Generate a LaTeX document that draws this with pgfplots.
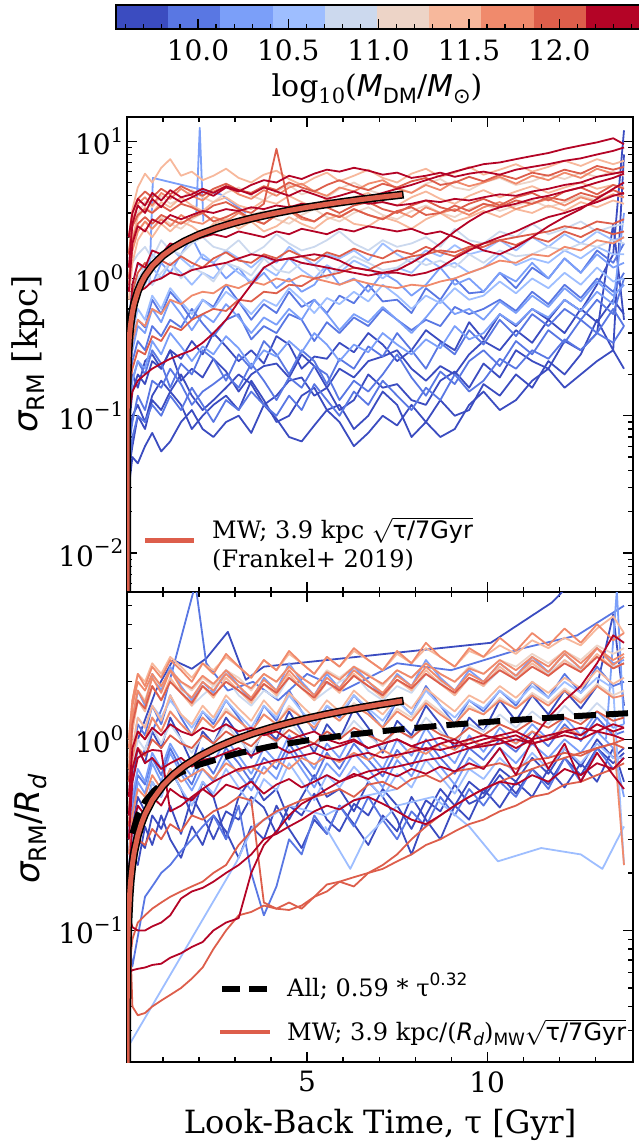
\documentclass[border=0pt]{standalone}
\usepackage{fontspec}
\setmainfont{DejaVu Serif}
\newfontfamily\dvs{DejaVu Sans}
\usepackage{pgfplots}
\pgfplotsset{compat=1.18}
\usepackage{pgfplotstable}

\definecolor{c1}{HTML}{3B4CC0}
\definecolor{c2}{HTML}{5977E3}
\definecolor{c3}{HTML}{7B9FF9}
\definecolor{c4}{HTML}{9EBEFF}
\definecolor{c5}{HTML}{CCD9EE}
\definecolor{c6}{HTML}{EDD4C7}
\definecolor{c7}{HTML}{F7B89C}
\definecolor{c8}{HTML}{F08A6C}
\definecolor{c9}{HTML}{DD5E4B}
\definecolor{c10}{HTML}{B40426}

\newcommand{\sub}[2]{\raisebox{-0.22em}{\fontsize{#1}{#1}\selectfont #2}}
\newcommand{\sups}[2]{\raisebox{0.45em}{\fontsize{#1}{#1}\selectfont #2}}

\pgfplotstableread{
name a1 a2 a3 a4 a5 a6 a7 a8 a9 a10 a11 a12 a13 a14 a15 a16 a17 a18 a19 a20 a21 a22 a23 a24 a25 a26 a27 a28 a29 a30 a31 a32 a33 a34 a35 a36 a37 a38 a39 a40
t 0.05 0.15 0.3 0.5 0.7 0.95 1.2 1.5 1.8 2.1 2.4 2.75 3.1 3.45 3.8 4.15 4.5 4.85 5.2 5.55 5.9 6.3 6.7 7.1 7.5 7.9 8.3 8.7 9.1 9.5 9.9 10.35 10.8 11.25 11.7 12.15 12.6 13.05 13.5 13.8
B1a 0.03 0.05 0.045 0.06 0.075 0.055 0.065 0.09 0.11 0.08 0.07 0.09 0.1 0.075 0.12 0.095 0.07 0.065 0.085 0.11 0.09 0.06 0.075 0.1 0.085 0.12 0.09 0.07 0.08 0.12 0.15 0.11 0.13 0.18 0.22 0.16 0.2 0.25 0.3 0.22
B1b 0.06 0.1 0.12 0.09 0.14 0.18 0.15 0.2 0.14 0.11 0.13 0.16 0.2 0.17 0.12 0.14 0.18 0.19 0.14 0.16 0.11 0.13 0.2 0.16 0.17 0.13 0.12 0.18 0.21 0.16 0.24 0.19 0.3 0.25 0.22 0.35 0.3 0.4 2.5 0.5
B1c 0.08 0.15 0.2 0.17 0.25 0.22 0.3 0.26 0.35 0.28 0.4 0.32 0.25 0.3 0.24 0.38 0.33 0.22 0.27 0.26 0.34 0.29 0.4 0.33 0.25 0.3 0.42 0.35 0.3 0.48 0.36 0.55 0.45 0.6 0.5 0.7 0.58 0.9 1.5 12
B1d 0.04 0.06 0.1 0.08 0.13 0.11 0.15 0.12 0.08 0.1 0.12 0.14 0.11 0.18 0.13 0.09 0.1 0.14 0.16 0.11 0.12 0.08 0.1 0.15 0.12 0.07 0.09 0.13 0.1 0.11 0.17 0.14 0.2 0.16 0.25 0.2 0.28 0.5 0.3 8
B1e 0.1 0.2 0.16 0.25 0.28 0.22 0.3 0.18 0.22 0.19 0.26 0.21 0.15 0.2 0.23 0.24 0.19 0.28 0.23 0.16 0.22 0.19 0.25 0.27 0.3 0.22 0.18 0.23 0.2 0.28 0.35 0.3 0.42 0.34 0.5 0.4 0.6 0.48 0.7 0.55
B2a 0.15 0.25 0.35 0.3 0.45 0.38 0.5 0.44 0.6 0.47 0.38 0.5 0.55 0.36 0.45 0.4 0.55 0.5 0.35 0.48 0.4 0.52 0.45 0.6 0.5 0.42 0.5 0.45 0.62 0.55 0.6 0.7 0.58 0.8 0.65 0.9 0.72 1.0 0.8 1.1
B2b 0.06 0.09 0.14 0.11 0.18 0.16 0.22 0.17 0.12 0.15 0.17 0.2 0.16 0.24 0.18 0.13 0.19 0.16 0.23 0.2 0.13 0.18 0.15 0.2 0.28 0.19 0.14 0.21 0.17 0.25 0.3 0.23 0.35 0.28 0.42 0.34 0.5 0.4 0.6 0.45
B2c 0.2 0.35 0.5 0.44 0.7 0.55 0.8 0.65 0.5 0.7 0.62 0.9 0.68 0.5 0.65 0.56 0.8 0.62 0.7 0.56 0.75 0.66 0.9 0.68 0.7 0.56 0.85 0.7 1.0 0.78 0.8 1.1 0.85 1.2 1.0 1.4 1.1 1.6 1.3 1.8
B2d 0.1 0.18 0.25 0.2 0.3 0.24 0.16 0.24 0.2 0.3 0.26 0.18 0.28 0.22 0.35 0.28 0.2 0.3 0.25 0.17 0.26 0.22 0.32 0.27 0.4 0.3 0.22 0.34 0.28 0.42 0.33 0.5 0.38 0.55 0.45 0.6 0.5 0.7 0.55 1.0
B2e 0.04 0.07 0.1 0.09 0.12 0.1 0.14 0.11 0.16 0.12 0.09 0.13 0.11 0.15 0.12 0.1 0.14 0.11 0.17 0.13 0.1 0.15 0.12 0.18 0.14 0.11 0.16 0.13 0.2 0.15 0.18 0.26 0.22 0.3 0.26 0.36 0.3 0.4 0.34 0.45
B3a 0.3 0.6 0.9 1.2 0.9 1.3 1.1 1.5 2.0 1.4 1.3 1.0 1.2 0.9 1.1 0.85 1.0 0.8 0.9 1.2 0.9 1.0 0.8 1.1 0.95 0.75 0.9 1.2 0.9 1.0 0.8 1.1 0.95 1.3 1.0 1.4 1.1 1.5 1.2 1.3
B3b 0.2 0.3 0.45 0.4 0.6 0.48 0.7 0.55 0.42 0.55 0.48 0.65 0.52 0.4 0.52 0.46 0.6 0.5 0.7 0.55 0.42 0.55 0.48 0.62 0.5 0.4 0.52 0.7 0.55 0.6 0.5 0.68 0.56 0.75 0.62 0.85 0.68 0.95 0.75 0.9
B3c 0.12 0.18 0.25 0.22 0.35 0.28 0.4 0.32 0.25 0.32 0.28 0.38 0.31 0.23 0.3 0.27 0.35 0.29 0.4 0.33 0.25 0.33 0.29 0.4 0.33 0.28 0.36 0.31 0.45 0.36 0.4 0.55 0.46 0.6 0.52 0.7 0.58 0.8 0.65 3
B4a 0.4 0.7 1.0 0.9 1.2 1.0 1.3 1.1 0.9 1.1 1.0 1.3 1.1 0.95 1.2 1.05 1.4 1.15 1.0 1.25 1.1 1.35 1.2 1.0 1.2 1.1 1.4 1.2 1.3 1.1 1.2 1.5 1.25 1.4 1.3 1.6 1.4 1.7 1.5 1.5
B4b 0.25 0.4 0.6 0.5 0.75 0.6 0.85 0.68 0.55 0.7 0.6 0.8 0.68 0.55 0.7 0.63 0.85 0.7 0.56 0.72 0.65 0.8 0.68 0.9 0.75 0.6 0.75 0.66 0.85 0.7 0.75 0.95 0.78 1.0 0.85 1.1 0.9 1.2 0.95 1.0
B4c 0.5 0.9 1.3 1.1 1.5 1.3 1.7 1.4 1.2 1.5 1.3 1.6 1.4 1.2 1.45 1.3 1.7 1.45 1.25 1.5 1.4 1.6 1.35 1.8 1.5 1.3 1.6 1.45 1.75 1.5 1.6 1.9 1.6 2.0 1.7 2.1 1.8 2.2 1.9 2.0
G5a 0.8 1.3 1.5 1.7 1.4 1.9 1.6 1.5 1.8 2.0 1.7 1.6 1.9 1.5 1.7 2.1 1.8 1.6 1.7 1.9 2.2 1.8 1.6 1.9 1.7 1.8 2.0 1.7 2.3 1.9 1.8 2.2 2.0 2.5 2.1 2.3 2.6 2.2 2.4 2.5
G5b 0.5 0.7 1.0 1.2 0.9 1.1 1.3 1.0 1.2 1.1 0.95 1.3 1.2 1.05 1.4 1.15 1.1 1.3 1.25 1.0 1.2 1.45 1.3 1.15 1.2 1.4 1.25 1.35 1.2 1.5 1.3 1.6 1.45 1.5 1.7 1.6 1.8 1.7 1.9 1.8
P6a 1.5 2.6 3.0 3.6 3.3 4.0 3.5 3.8 4.4 3.9 3.6 4.2 4.6 4.0 3.7 4.3 4.8 4.1 4.4 3.9 4.5 5.0 4.4 4.1 4.6 4.2 4.9 5.3 4.6 4.4 5.0 5.4 4.8 5.1 5.7 5.3 5.9 5.5 6.0 5.6
P6b 1.0 1.6 2.2 2.6 2.3 2.8 2.5 2.3 2.7 3.0 2.6 2.8 2.4 2.9 3.1 2.7 2.5 2.9 3.2 2.8 2.6 3.0 3.3 2.9 2.7 3.1 3.4 3.0 2.8 3.2 3.5 3.1 3.4 3.7 3.3 3.6 4.0 3.7 4.1 3.9
P7a 2.0 3.2 4.6 5.8 5.0 6.4 7.4 5.6 6.0 5.2 5.6 6.3 5.4 5.0 5.7 6.1 5.3 4.8 5.4 5.9 5.1 5.6 6.2 5.4 5.0 5.8 6.3 5.5 5.9 6.5 5.7 6.2 6.8 6.0 6.5 7.2 6.6 7.4 6.8 7.2
P7b 1.2 2.0 2.8 3.3 3.0 3.6 3.3 3.9 3.4 3.1 3.6 3.9 3.4 3.2 3.7 3.5 4.0 3.6 3.3 3.8 3.5 3.9 4.2 3.6 3.4 3.9 4.3 3.8 3.5 4.0 4.4 3.9 4.3 4.7 4.2 4.6 5.0 4.5 4.8 4.6
P7c 0.7 1.3 1.9 2.3 2.0 2.5 2.2 2.6 2.4 2.1 2.5 2.7 2.3 2.6 2.2 2.4 2.8 2.5 2.3 2.7 2.9 2.5 2.4 2.8 2.6 2.3 2.7 3.0 2.6 2.8 3.1 2.8 3.2 3.0 3.4 3.1 3.6 3.3 3.7 3.5
R8a 1.5 2.6 3.5 3.9 3.4 4.2 3.8 4.5 4.0 3.7 4.3 4.7 4.1 3.8 4.4 4.0 4.6 4.9 4.3 4.0 4.6 4.3 4.9 5.2 4.5 4.2 4.8 4.4 5.1 4.7 5.0 5.5 4.9 5.6 5.2 5.9 5.4 6.3 5.8 6.0
R8b 0.9 1.6 2.2 2.6 2.3 2.7 2.4 2.9 2.6 2.5 2.8 2.6 3.0 2.7 2.5 2.9 3.1 2.7 2.6 3.0 2.8 3.2 2.9 2.7 3.1 2.8 3.3 3.0 3.2 2.9 3.3 3.6 3.2 3.5 3.8 3.4 3.9 3.6 4.1 3.9
R8c 0.2 0.35 0.5 0.45 0.6 0.55 0.7 0.65 0.75 0.8 0.78 0.9 0.85 0.95 0.9 1.0 0.95 1.05 1.0 0.95 0.9 0.98 0.92 0.88 0.85 0.9 0.88 0.95 1.0 1.1 1.2 1.35 1.3 1.5 1.45 1.7 1.6 1.9 1.8 2.0
R9a 2.0 3.0 3.8 4.3 3.9 4.5 4.1 4.7 4.3 4.0 4.5 4.9 4.4 4.2 4.7 4.4 5.0 4.6 4.3 4.8 5.2 4.7 4.4 4.9 4.6 5.1 5.4 4.8 5.0 5.5 5.1 5.7 5.3 5.9 5.6 6.2 5.8 6.6 6.2 6.5
R9b 1.5 2.4 2.9 3.2 3.0 3.4 3.1 3.5 3.3 3.0 3.4 3.6 3.2 3.0 3.5 8.8 3.4 3.1 3.5 3.3 3.0 3.4 3.6 3.2 3.0 3.4 3.7 3.3 3.1 3.5 3.8 3.4 3.9 4.2 3.7 4.3 4.6 4.1 4.8 4.5
R9c 1.0 1.9 2.5 2.8 2.5 2.9 2.7 2.5 2.8 3.0 2.6 2.8 3.1 2.7 2.5 2.9 3.2 2.8 2.6 3.0 2.8 3.2 2.9 2.7 3.1 3.3 2.9 3.0 3.4 3.1 3.5 3.3 3.7 3.5 3.9 3.7 4.2 3.9 4.4 4.1
R9d 0.4 0.8 1.1 1.3 1.15 1.35 1.25 1.45 1.3 1.2 1.4 1.55 1.35 1.3 1.5 1.4 1.6 1.45 1.35 1.55 1.45 1.65 1.5 1.4 1.6 1.5 1.7 1.55 1.45 1.65 1.7 1.9 1.75 2.0 1.85 2.2 2.0 2.3 2.1 2.2
R9e 0.15 0.22 0.3 0.28 0.38 0.35 0.45 0.42 0.5 0.55 0.6 0.58 0.7 0.68 0.8 0.78 0.9 0.88 1.0 1.05 1.1 1.2 1.15 1.3 1.35 1.45 1.5 1.6 1.55 1.7 1.8 1.9 2.0 2.1 2.2 2.4 2.3 2.6 2.5 2.7
R10a 1.2 2.5 3.4 3.0 3.8 3.3 4.0 3.6 3.9 4.3 4.0 4.6 4.3 4.8 5.2 5.0 5.6 5.3 5.8 6.2 6.0 6.4 6.1 5.7 5.9 5.4 5.6 5.9 5.5 5.8 6.0 5.7 6.2 6.5 6.8 7.2 7.5 8.0 8.5 9.0
R10b 0.8 1.8 2.4 2.2 2.7 2.5 2.9 2.7 2.9 3.1 3.0 3.2 3.1 3.3 3.2 3.4 3.3 3.5 3.4 3.6 3.5 3.7 3.5 3.6 3.4 3.5 3.7 3.6 3.8 3.7 3.9 4.1 4.0 4.3 4.5 4.8 5.0 5.5 5.8 6.0
R10c 0.4 0.9 1.3 1.2 1.6 1.5 1.8 1.7 1.9 2.0 2.1 2.0 2.2 2.1 2.0 2.2 2.1 2.3 2.2 2.1 2.3 2.2 2.4 2.3 2.2 2.3 2.1 2.2 2.0 1.8 1.6 1.5 1.7 2.0 2.4 2.8 3.2 3.8 4.5 5.0
R10d 0.1 0.15 0.18 0.2 0.22 0.24 0.26 0.28 0.3 0.34 0.4 0.5 0.68 0.9 1.2 1.35 1.4 1.45 1.5 1.45 1.35 1.2 1.15 1.1 1.15 1.3 1.5 1.8 2.2 2.6 3.0 3.3 3.5 3.8 4.0 4.3 4.6 5.0 5.4 5.8
R10e 0.3 0.6 0.8 0.85 0.95 1.0 1.1 1.05 1.15 1.2 1.25 1.3 1.4 1.5 1.45 1.35 1.4 1.3 1.25 1.2 1.15 1.1 1.05 1.1 1.1 1.05 1.1 1.2 1.4 1.6 1.8 2.0 2.2 2.5 2.8 3.0 3.3 3.6 4.0 4.2
R10g 2.0 3.0 3.8 3.4 4.2 3.7 4.4 3.9 4.1 4.5 4.2 4.7 4.4 4.1 4.6 4.3 4.0 4.4 4.1 3.8 4.0 4.3 3.9 4.2 4.5 4.8 5.2 5.6 6.0 6.4 6.8 7.0 7.4 7.8 8.2 8.8 9.3 9.8 10.5 9.5
}\TopRaw
\pgfplotstabletranspose[colnames from=name]{\TopT}{\TopRaw}

\pgfplotstableread{
name a1 a2 a3 a4 a5 a6 a7 a8 a9 a10 a11 a12 a13 a14 a15 a16 a17 a18 a19 a20 a21 a22 a23 a24 a25 a26 a27 a28 a29 a30 a31 a32 a33 a34 a35 a36 a37 a38 a39 a40
t 0.05 0.15 0.3 0.5 0.7 0.95 1.2 1.5 1.8 2.1 2.4 2.75 3.1 3.45 3.8 4.15 4.5 4.85 5.2 5.55 5.9 6.3 6.7 7.1 7.5 7.9 8.3 8.7 9.1 9.5 9.9 10.35 10.8 11.25 11.7 12.15 12.6 13.05 13.5 13.8
B1a 0.1 0.2 0.3 0.27 0.4 0.34 0.45 0.32 0.5 0.4 0.3 0.42 0.38 0.5 0.44 0.32 0.45 0.4 0.52 0.38 0.33 0.46 0.4 0.55 0.45 0.34 0.48 0.42 0.58 0.46 0.5 0.65 0.52 0.7 0.58 0.8 0.65 0.9 0.75 0.85
B1b 0.3 0.6 0.9 0.75 1.1 0.9 1.3 1.0 0.75 1.1 0.95 1.3 1.05 0.8 1.15 1.0 1.4 1.1 0.85 1.2 1.0 1.45 1.15 0.85 1.25 1.05 1.5 1.2 0.9 1.3 1.1 1.6 1.25 1.7 1.35 1.8 1.45 1.9 4.5 1.5
B1c 0.2 0.35 0.5 0.42 0.6 0.5 0.7 0.55 0.4 0.6 0.5 0.3 0.5 0.62 0.48 0.55 0.38 0.5 0.65 0.5 0.55 0.42 0.6 0.5 0.38 0.25 0.4 0.55 0.45 0.6 0.52 0.7 0.6 0.8 0.66 0.9 0.72 1.0 0.8 0.9
B1d 0.15 0.25 0.22 0.35 0.28 0.4 0.3 0.24 0.35 0.28 0.4 0.33 0.24 0.35 0.3 0.45 0.34 0.27 0.38 0.32 0.45 0.36 0.28 0.4 0.33 0.5 0.38 0.3 0.45 0.38 0.55 0.44 0.6 0.5 0.7 0.56 0.75 0.6 0.9 0.6
B2a 0.4 0.8 1.2 1.05 1.5 1.2 1.7 1.3 1.05 1.4 1.2 1.6 1.3 1.05 1.5 1.25 1.8 1.4 1.1 1.5 1.3 1.7 1.4 1.15 1.6 1.35 1.9 1.5 1.2 1.6 1.4 1.8 1.5 2.0 1.65 2.2 1.75 2.4 1.9 2.0
B2b 0.09 0.065 0.093 0.15 0.17 0.2 0.22 0.26 0.3 0.35 0.4 0.3 0.45 0.2 0.12 0.17 0.3 0.25 0.4 0.32 0.45 0.35 0.5 0.38 0.3 0.42 0.35 0.5 0.4 0.55 0.45 0.6 0.5 0.7 0.55 0.8 0.6 0.9 0.7 0.8
B2c 0.25 0.45 0.65 0.58 0.8 0.65 0.9 0.7 0.58 0.8 0.66 0.9 0.75 0.6 0.8 0.7 0.95 0.76 0.62 0.85 0.7 0.95 0.78 0.64 0.88 0.72 1.0 0.8 0.66 0.9 0.78 1.0 0.86 1.1 0.92 1.2 0.98 1.3 1.05 1.1
B3a 0.6 1.2 1.8 1.5 2.2 1.8 2.4 1.9 1.6 2.0 1.75 2.3 1.9 1.6 2.1 1.8 2.5 2.0 1.7 2.2 1.85 2.4 2.0 1.7 2.2 1.9 2.6 2.1 1.8 2.3 2.0 2.5 2.15 2.7 2.25 2.8 2.35 3.0 2.5 2.6
B3b 0.2 0.4 0.6 0.52 0.75 0.6 0.85 0.66 0.54 0.7 0.6 0.8 0.66 0.54 0.72 0.62 0.88 0.7 0.56 0.75 0.64 0.85 0.7 0.56 0.78 0.64 0.9 0.72 0.58 0.8 0.7 0.9 0.75 0.95 0.8 1.0 0.85 1.1 0.9 0.5
B3c 0.3 0.5 0.7 0.6 0.85 0.7 0.95 0.76 0.64 0.9 0.76 1.0 0.82 0.66 0.9 0.76 1.05 0.85 0.7 0.95 0.8 1.1 0.86 0.7 1.0 0.82 1.15 0.9 0.75 1.05 0.86 1.15 0.95 1.2 1.0 1.3 1.05 1.4 1.15 1.2
B4a 0.5 0.9 1.3 1.15 1.5 1.3 1.6 1.35 1.15 1.4 1.25 1.6 1.35 1.15 1.5 1.3 1.7 1.4 1.2 1.5 1.35 1.7 1.45 1.25 1.6 1.35 1.8 1.5 1.3 1.6 1.45 1.8 1.55 1.9 1.65 2.0 1.75 2.1 1.85 0.22
B4b 0.15 0.3 0.45 0.4 0.6 0.5 0.7 0.55 0.45 0.6 0.52 0.7 0.56 0.45 0.62 0.54 0.75 0.6 0.48 0.65 0.56 0.72 0.6 0.5 0.66 0.56 0.78 0.64 0.52 0.7 0.62 0.8 0.66 0.85 0.7 0.9 0.75 0.95 0.8 0.8
G5a 0.7 1.2 1.6 1.4 1.9 1.6 2.0 1.8 1.5 1.7 1.9 2.1 1.7 1.5 1.8 1.65 2.1 1.9 1.6 1.8 2.0 2.2 1.8 1.6 1.9 1.75 2.2 2.0 1.7 2.1 1.9 2.3 2.1 2.5 2.2 2.6 2.3 2.7 2.4 2.5
G5b 0.4 0.7 1.0 0.88 1.15 0.95 1.2 1.0 0.85 1.05 0.95 1.2 1.0 0.85 1.1 0.95 1.25 1.05 0.9 1.1 1.0 1.25 1.05 0.9 1.15 1.0 1.3 1.1 0.95 1.2 1.1 1.35 1.15 1.4 1.2 1.5 1.25 1.55 1.3 1.4
P6a 0.8 1.4 1.8 1.6 2.1 1.9 2.3 2.0 1.8 2.1 1.9 2.3 2.1 1.8 2.2 2.0 2.4 2.1 1.9 2.3 2.1 2.4 2.2 1.9 2.3 2.1 2.5 2.2 2.0 2.4 2.2 2.6 2.4 2.8 2.5 2.9 2.6 3.1 2.8 3.0
P6b 0.45 0.8 1.1 1.0 1.3 1.1 1.4 1.2 1.05 1.3 1.15 1.45 1.25 1.1 1.35 1.2 1.5 1.3 1.15 1.4 1.25 1.55 1.35 1.15 1.45 1.3 1.6 1.4 1.2 1.5 1.35 1.65 1.45 1.75 1.55 1.85 1.6 1.95 1.7 1.8
P7a 1.0 1.6 2.2 2.0 2.5 2.2 2.7 2.4 2.1 2.5 2.3 2.7 2.4 2.1 2.6 2.3 2.8 2.5 2.2 2.7 2.4 2.9 2.6 2.3 2.8 2.5 3.0 2.7 2.4 2.9 2.7 3.1 2.8 3.3 3.0 3.4 3.1 3.8 4.4 3.6
P7b 0.6 1.1 1.6 1.4 1.9 1.6 2.1 1.75 1.5 1.9 1.65 2.1 1.8 1.55 1.95 1.7 2.2 1.85 1.6 2.0 1.75 2.2 1.9 1.65 2.05 1.8 2.3 1.95 1.7 2.1 1.9 2.4 2.05 2.5 2.15 2.6 2.25 2.8 2.35 2.5
P7c 0.5 0.9 1.3 1.15 1.5 1.25 1.7 1.35 1.2 1.5 1.3 1.7 1.45 1.25 1.6 1.35 1.75 1.5 1.3 1.6 1.4 1.8 1.55 1.35 1.65 1.45 1.85 1.6 1.4 1.7 1.55 1.9 1.65 2.0 1.75 2.1 1.85 2.3 1.95 2.1
R8a 0.7 1.3 1.8 1.55 2.1 1.75 2.3 1.85 1.65 2.0 1.8 2.2 1.9 1.65 2.05 1.8 2.3 1.95 1.7 2.1 1.85 2.3 2.0 1.75 2.15 1.9 2.4 2.05 1.8 2.2 2.0 2.5 2.15 2.6 2.25 2.8 2.35 3.0 2.45 2.7
R8b 0.4 0.8 1.1 1.0 1.3 1.1 1.4 1.2 1.05 1.3 1.15 1.4 1.25 1.1 1.35 1.2 1.45 1.3 1.15 1.4 1.25 1.5 1.35 1.15 1.4 1.25 1.55 1.35 1.2 1.45 1.35 1.6 1.45 1.7 1.5 1.8 1.55 1.9 1.65 1.7
R8c 0.25 0.4 0.55 0.5 0.65 0.55 0.7 0.6 0.65 0.7 0.62 0.75 0.68 0.72 0.66 0.78 0.7 0.8 0.74 0.82 0.76 0.85 0.78 0.88 0.8 0.9 0.84 0.95 0.88 1.0 0.92 1.05 0.95 1.1 1.0 1.15 1.05 1.2 1.1 0.22
R8d 0.9 1.5 2.0 1.8 2.2 1.9 2.3 2.0 1.85 2.15 1.95 2.3 2.0 1.85 2.2 2.0 2.4 2.1 1.9 2.25 2.05 2.4 2.15 1.95 2.3 2.1 2.5 2.2 2.0 2.35 2.2 2.6 2.3 2.7 2.4 2.9 2.5 3.0 2.6 2.8
R8e 1.0 1.6 2.2 1.9 2.4 2.1 2.6 2.3 2.0 2.5 2.2 2.8 2.4 2.1 2.6 2.3 2.9 2.5 2.2 2.7 2.4 3.0 2.6 2.3 2.9 2.5 3.2 2.7 2.4 3.0 2.7 3.4 2.9 3.6 3.1 3.8 3.2 4.0 3.3 3.6
R9a 0.6 1.2 1.6 1.45 1.9 1.6 2.0 1.75 1.55 1.9 1.7 2.0 1.8 1.6 1.95 1.75 2.1 1.85 1.65 2.0 1.8 2.15 1.9 1.7 2.05 1.85 2.2 1.95 1.75 2.1 1.95 2.3 2.05 2.4 2.15 2.5 2.25 2.7 2.35 2.5
R9b 0.35 0.7 0.9 0.82 1.0 0.9 1.05 0.95 0.9 1.05 0.95 1.1 1.0 0.92 1.08 0.98 1.12 1.02 0.95 1.1 1.0 1.15 1.05 0.97 1.12 1.02 1.18 1.06 1.0 1.15 1.05 1.2 1.1 1.25 1.15 1.3 1.2 1.4 1.25 1.3
R9c 0.15 0.04 0.036 0.037 0.04 0.043 0.046 0.05 0.056 0.064 0.08 0.1 0.12 0.125 0.135 0.13 0.128 0.135 0.15 0.174 0.18 0.19 0.2 0.21 0.23 0.25 0.28 0.3 0.33 0.36 0.38 0.42 0.45 0.5 0.52 0.58 0.6 0.65 0.7 0.75
R9d 0.15 0.25 0.3 0.28 0.34 0.3 0.36 0.33 0.4 0.38 0.42 0.45 0.5 0.48 0.14 0.13 0.14 0.13 0.15 0.16 0.18 0.17 0.2 0.22 0.25 0.3 0.35 0.4 0.45 0.5 0.55 0.6 0.65 0.7 0.75 0.8 0.85 0.9 0.95 1.0
R9e 0.06 0.09 0.11 0.12 0.13 0.14 0.15 0.16 0.17 0.18 0.2 0.22 0.28 0.33 0.38 0.42 0.45 0.48 0.5 0.52 0.55 0.5 0.58 0.6 0.55 0.62 0.65 0.6 0.68 0.7 0.72 0.75 0.7 0.78 0.8 0.85 0.82 0.9 0.95 0.9
R10a 0.3 0.6 0.8 0.85 0.88 0.87 0.42 0.45 0.5 0.55 0.6 0.65 0.7 0.72 0.75 0.78 0.8 0.82 0.85 0.8 0.78 0.82 0.85 0.8 0.83 0.86 0.9 0.88 0.92 0.95 1.0 1.05 1.1 1.0 1.05 1.1 1.15 1.1 1.2 1.15
R10b 0.06 0.062 0.063 0.064 0.066 0.067 0.072 0.076 0.082 0.087 0.1 0.11 0.116 0.2 0.28 0.33 0.4 0.46 0.5 0.55 0.6 0.64 0.68 0.7 0.72 0.75 0.78 0.8 0.85 0.9 0.92 0.95 1.0 0.95 1.0 1.05 1.0 1.1 1.05 1.0
R10c 0.12 0.104 0.1 0.1 0.105 0.11 0.12 0.147 0.16 0.167 0.18 0.2 0.22 0.25 0.3 0.32 0.35 0.38 0.42 0.45 0.43 0.48 0.5 0.46 0.42 0.38 0.36 0.4 0.45 0.5 0.55 0.6 0.58 0.65 0.6 0.7 0.65 0.75 0.7 0.8
R10d 0.4 0.7 0.9 0.75 0.8 0.7 0.75 0.8 0.72 0.78 0.8 0.85 0.9 0.82 0.88 0.92 0.85 0.9 0.95 0.88 0.92 0.98 0.9 0.95 1.0 0.92 0.98 1.02 0.95 1.0 1.05 1.0 0.9 1.0 1.3 1.6 1.9 2.5 3.5 3.2
R10e 0.2 0.35 0.45 0.4 0.5 0.45 0.55 0.5 0.48 0.55 0.5 0.58 0.55 0.6 0.52 0.58 0.62 0.56 0.6 0.65 0.6 0.66 0.62 0.68 0.64 0.7 0.66 0.72 0.68 0.75 0.7 0.9 0.65 1.0 0.7 0.95 0.6 0.85 0.65 0.55
R10f 0.5 0.9 1.1 1.0 1.15 1.05 1.2 1.1 1.05 1.15 1.1 1.2 1.1 1.15 1.05 1.1 1.0 1.05 1.1 1.0 0.95 1.0 0.9 0.95 1.0 0.92 0.88 0.95 1.0 0.9 0.95 1.0 1.05 0.95 1.0 1.1 1.05 1.2 1.1 1.15
}\BotRaw
\pgfplotstabletranspose[colnames from=name]{\BotT}{\BotRaw}

\newcommand{\TL}[2]{\addplot[#1] table[x=t,y=#2]{\TopT};}
\newcommand{\BL}[2]{\addplot[#1] table[x=t,y=#2]{\BotT};}

\pgfplotsset{
  /pgfplots/mypanel/.style={
    scale only axis, width=506pt, xmin=0, xmax=14.05,
    tick align=inside, major tick length=10pt, minor tick length=5pt,
    axis line style={line width=1.6pt},
    every tick/.append style={black, line width=1.2pt},
    xtick={5,10}, minor xtick={1,2,3,4,6,7,8,9,11,12,13},
    ticklabel style={font=\fontsize{28}{30}\selectfont},
    xticklabel style={yshift=-6pt},
    every axis plot/.append style={line width=1.8pt, line join=round},
  }
}

\begin{document}
\begin{tikzpicture}
% colour bar
\begin{axis}[at={(116pt,-29pt)}, anchor=south west, scale only axis,
  width=526pt, height=24pt, xmin=9.546, xmax=12.458, ymin=0, ymax=1,
  ytick=\empty, xtick={10,10.5,11,11.5,12},
  xticklabels={10.0,10.5,11.0,11.5,12.0},
  minor xtick={9.6,9.7,9.8,9.9,10.1,10.2,10.3,10.4,10.6,10.7,10.8,10.9,11.1,11.2,11.3,11.4,11.6,11.7,11.8,11.9,12.1,12.2,12.3,12.4},
  xtick pos=left, tick align=inside, major tick length=10pt, minor tick length=5pt,
  axis on top, axis line style={line width=1.6pt},
  every tick/.append style={black, line width=1.2pt},
  xticklabel style={font=\fontsize{28}{30}\selectfont, yshift=-7pt}]
\fill[c1] (axis cs:9.546,0) rectangle (axis cs:9.835,1);
\fill[c2] (axis cs:9.835,0) rectangle (axis cs:10.124,1);
\fill[c3] (axis cs:10.124,0) rectangle (axis cs:10.413,1);
\fill[c4] (axis cs:10.413,0) rectangle (axis cs:10.702,1);
\fill[c5] (axis cs:10.702,0) rectangle (axis cs:10.991,1);
\fill[c6] (axis cs:10.991,0) rectangle (axis cs:11.280,1);
\fill[c7] (axis cs:11.280,0) rectangle (axis cs:11.569,1);
\fill[c8] (axis cs:11.569,0) rectangle (axis cs:11.858,1);
\fill[c9] (axis cs:11.858,0) rectangle (axis cs:12.147,1);
\fill[c10] (axis cs:12.147,0) rectangle (axis cs:12.458,1);
\end{axis}
\node[anchor=base] at (377pt,-97pt) {\fontsize{30}{32}\selectfont log\sub{21}{10}({\dvs\itshape M}\sub{21}{\dvs DM}/{\dvs\itshape M}\sub{21}{\dvs ⊙})};

% top panel
\begin{axis}[mypanel, ymode=log, at={(127pt,-592pt)}, anchor=south west, height=475pt,
  ymin=0.0052, ymax=15, ytick={0.01,0.1,1,10},
  yticklabels={{10\sups{20}{−2}},{10\sups{20}{−1}},{10\sups{20}{0}},{10\sups{20}{1}}},
  minor ytick={0.006,0.007,0.008,0.009,0.02,0.03,0.04,0.05,0.06,0.07,0.08,0.09,0.2,0.3,0.4,0.5,0.6,0.7,0.8,0.9,2,3,4,5,6,7,8,9},
  xticklabels={,,}]
\TL{c1}{B1a}\TL{c1}{B1b}\TL{c1}{B1c}\TL{c1}{B1d}\TL{c1}{B1e}
\TL{c2}{B2a}\TL{c2}{B2b}\TL{c2}{B2c}\TL{c2}{B2d}\TL{c2}{B2e}
\TL{c3}{B3a}\TL{c3}{B3b}\TL{c3}{B3c}
\addplot[c3] coordinates {(1.92,2.8)(2.02,12.5)(2.12,2.6)};
\addplot[c3] coordinates {(0.62,0.9)(0.72,5.4)(2.6,4.1)(2.9,3.6)(3.3,3.0)};
\TL{c4}{B4a}\TL{c4}{B4b}\TL{c4}{B4c}
\TL{c5}{G5a}\TL{c5}{G5b}
\TL{c6}{P6a}\TL{c6}{P6b}
\TL{c7}{P7a}\TL{c7}{P7b}\TL{c7}{P7c}
\TL{c8}{R8a}\TL{c8}{R8b}\TL{c8}{R8c}
\TL{c9}{R9a}\TL{c9}{R9b}\TL{c9}{R9c}\TL{c9}{R9d}\TL{c9}{R9e}
\TL{c10}{R10a}\TL{c10}{R10b}\TL{c10}{R10c}\TL{c10}{R10d}\TL{c10}{R10e}\TL{c10}{R10g}
\addplot[black, line width=8pt, line cap=rect] coordinates {(0.00001,0.00466)(0.00003,0.00807)(0.0001,0.01474)(0.0003,0.02553)(0.001,0.04661)(0.003,0.08074)(0.01,0.1474)(0.02,0.2085)(0.04,0.2948)(0.07,0.39)(0.1,0.4661)(0.15,0.5709)(0.2,0.6592)(0.3,0.8074)(0.4,0.9323)(0.5,1.0423)(0.7,1.2333)(1.0,1.4741)(1.3,1.6807)(1.6,1.8646)(2.0,2.0846)(2.5,2.3307)(3.0,2.5531)(3.5,2.7577)(4.0,2.9481)(4.5,3.1270)(5.0,3.2961)(5.5,3.4570)(6.0,3.6107)(6.5,3.7581)(7.0,3.9)(7.57,4.0557)};
\addplot[c9, line width=5pt, line cap=rect] coordinates {(0.00001,0.00466)(0.00003,0.00807)(0.0001,0.01474)(0.0003,0.02553)(0.001,0.04661)(0.003,0.08074)(0.01,0.1474)(0.02,0.2085)(0.04,0.2948)(0.07,0.39)(0.1,0.4661)(0.15,0.5709)(0.2,0.6592)(0.3,0.8074)(0.4,0.9323)(0.5,1.0423)(0.7,1.2333)(1.0,1.4741)(1.3,1.6807)(1.6,1.8646)(2.0,2.0846)(2.5,2.3307)(3.0,2.5531)(3.5,2.7577)(4.0,2.9481)(4.5,3.1270)(5.0,3.2961)(5.5,3.4570)(6.0,3.6107)(6.5,3.7581)(7.0,3.9)(7.57,4.0557)};
\end{axis}

% bottom panel
\begin{axis}[mypanel, ymode=log, at={(127pt,-1062pt)}, anchor=south west, height=470pt,
  ymin=0.0205, ymax=5.9, ytick={0.1,1},
  yticklabels={{10\sups{20}{−1}},{10\sups{20}{0}}},
  minor ytick={0.03,0.04,0.05,0.06,0.07,0.08,0.09,0.2,0.3,0.4,0.5,0.6,0.7,0.8,0.9,2,3,4,5},
  xticklabels={5,10}]
\BL{c1}{B1a}\BL{c1}{B1b}\BL{c1}{B1c}\BL{c1}{B1d}
\addplot[c1] coordinates {(0.3,1.0)(0.8,1.8)(1.28,2.6)(1.8,2.34)(2.2,2.65)(2.8,3.65)(3.3,2.05)(3.8,2.4)(10.1,3.2)(11.8,5.2)(12.3,6.5)};
\BL{c2}{B2a}\BL{c2}{B2b}\BL{c2}{B2c}
\addplot[c2] coordinates {(0.4,0.8)(1.0,1.5)(1.9,6.5)(2.2,2.5)(2.8,1.8)(3.5,2.0)(4.2,1.6)(5,2.2)(6,1.8)(7.5,2.5)(9,2.3)(11,3)(12.5,3.5)(13.8,5)};
\BL{c3}{B3a}\BL{c3}{B3b}\BL{c3}{B3c}
\addplot[c3] coordinates {(13.3,1.0)(13.6,6.0)(13.8,1.2)};
\BL{c4}{B4a}\BL{c4}{B4b}
\addplot[c4] coordinates {(0.05,0.025)(3.05,0.23)(3.5,0.35)(4.5,0.45)(5.5,0.4)(6.5,0.5)(7.5,0.55)};
\addplot[c4] coordinates {(5.5,0.35)(6.2,0.21)(6.6,0.3)(7.5,0.45)(8.5,0.5)(9.5,0.35)(10.3,0.23)(11.5,0.27)(12.6,0.25)(13.2,0.21)(13.8,0.35)};
\BL{c5}{G5a}\BL{c5}{G5b}
\BL{c6}{P6a}\BL{c6}{P6b}
\BL{c7}{P7a}\BL{c7}{P7b}\BL{c7}{P7c}
\BL{c8}{R8a}\BL{c8}{R8b}\BL{c8}{R8c}\BL{c8}{R8d}\BL{c8}{R8e}
\BL{c9}{R9a}\BL{c9}{R9b}\BL{c9}{R9c}\BL{c9}{R9d}\BL{c9}{R9e}
\BL{c10}{R10a}\BL{c10}{R10b}\BL{c10}{R10c}\BL{c10}{R10d}\BL{c10}{R10e}\BL{c10}{R10f}
\addplot[black, line width=6pt, dash pattern=on 22pt off 10pt] coordinates {(0.15,0.3215)(0.3,0.4014)(0.5,0.4727)(0.75,0.5381)(1,0.59)(1.5,0.6717)(2,0.7365)(3,0.8386)(4,0.9194)(5,0.9875)(6,1.0468)(7,1.0998)(8,1.1477)(9,1.1918)(10,1.2327)(11,1.2709)(12,1.3068)(13,1.3407)(14,1.3728)};
\addplot[black, line width=8pt, line cap=rect] coordinates {(0.00001,0.001817)(0.0001,0.005745)(0.0003,0.00995)(0.001,0.01817)(0.003,0.03147)(0.01,0.05745)(0.02,0.08125)(0.04,0.1149)(0.07,0.152)(0.1,0.1817)(0.15,0.2225)(0.2,0.2569)(0.3,0.3147)(0.4,0.3633)(0.5,0.4062)(0.7,0.4807)(1.0,0.5745)(1.3,0.655)(1.6,0.7267)(2.0,0.8125)(2.5,0.9084)(3.0,0.9951)(3.5,1.0748)(4.0,1.149)(4.5,1.2187)(5.0,1.2846)(5.5,1.3473)(6.0,1.4072)(6.5,1.4647)(7.0,1.52)(7.57,1.5807)};
\addplot[c9, line width=5pt, line cap=rect] coordinates {(0.00001,0.001817)(0.0001,0.005745)(0.0003,0.00995)(0.001,0.01817)(0.003,0.03147)(0.01,0.05745)(0.02,0.08125)(0.04,0.1149)(0.07,0.152)(0.1,0.1817)(0.15,0.2225)(0.2,0.2569)(0.3,0.3147)(0.4,0.3633)(0.5,0.4062)(0.7,0.4807)(1.0,0.5745)(1.3,0.655)(1.6,0.7267)(2.0,0.8125)(2.5,0.9084)(3.0,0.9951)(3.5,1.0748)(4.0,1.149)(4.5,1.2187)(5.0,1.2846)(5.5,1.3473)(6.0,1.4072)(6.5,1.4647)(7.0,1.52)(7.57,1.5807)};
\end{axis}

% legends
\draw[c9, line width=5pt] (145pt,-540.5pt) -- (194pt,-540.5pt);
\node[anchor=base west, inner sep=0pt] at (212pt,-538pt) {\fontsize{24}{26}\selectfont MW; 3.9 kpc $\sqrt{\hbox{\dvs τ/7Gyr}}$};
\node[anchor=base west, inner sep=0pt] at (212pt,-567pt) {\fontsize{24}{26}\selectfont (Frankel+ 2019)};
\draw[black, line width=6pt, dash pattern=on 18pt off 9pt] (222pt,-989pt) -- (268pt,-989pt);
\node[anchor=base west, inner sep=0pt] at (287pt,-996pt) {\fontsize{24}{26}\selectfont All; 0.59 * τ\sups{17}{\dvs 0.32}};
\draw[c9, line width=4pt] (220pt,-1032pt) -- (270pt,-1032pt);
\node[anchor=base west, inner sep=0pt] at (287pt,-1040pt) {\fontsize{24}{26}\selectfont MW; 3.9 kpc/({\dvs\itshape R}\sub{17}{\dvs\itshape d})\sub{17}{\dvs MW}$\sqrt{\hbox{\dvs τ/7Gyr}}$};

% axis titles
\node[rotate=90, anchor=center] at (28pt,-354pt) {\fontsize{34}{36}\selectfont{\dvs\itshape σ}\sub{24}{\dvs RM} [kpc]};
\node[rotate=90, anchor=center] at (31pt,-829pt) {\fontsize{34}{36}\selectfont\dvs{\itshape σ}\sub{24}{RM}/{\itshape R}\sub{24}{\itshape d}};
\node[anchor=base] at (380pt,-1133pt) {\fontsize{32}{34}\selectfont Look-Back Time, τ [Gyr]};

\pgfresetboundingbox
\path[use as bounding box] (0pt,0pt) rectangle (638pt,-1142pt);
\end{tikzpicture}
\end{document}
